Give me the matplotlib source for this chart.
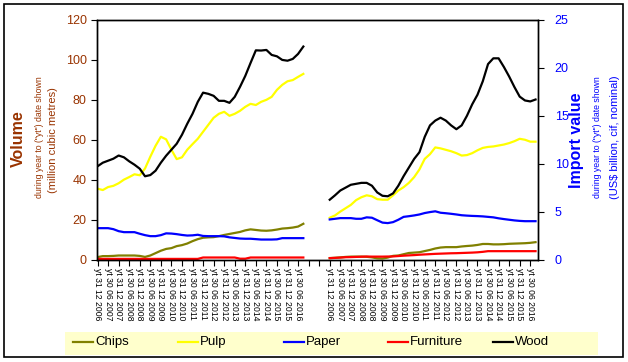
import matplotlib
matplotlib.use("Agg")
import matplotlib.pyplot as plt
from matplotlib.patches import Rectangle
from matplotlib.lines import Line2D

plt.rcParams['font.family'] = ['Liberation Sans', 'DejaVu Sans']

# months since Dec 2006 (quarterly readings)
months = list(range(0, 118, 3))

# volume, million cubic metres (left panel)
chips_vol = [1.2, 1.7, 1.7, 1.8, 2.0, 2.0, 2.0, 2.0, 1.8, 1.3, 2.0, 3.2, 4.4, 5.3, 5.7, 6.7, 7.2, 8, 9.2, 10.2,
             10.9, 11.1, 11.2, 11.7, 12.3, 12.8, 13.3, 13.8, 14.6, 15.1, 14.8, 14.5, 14.4, 14.6, 15, 15.5, 15.7, 16, 16.5, 17.9]
pulp_vol = [35.5, 34.8, 36.3, 36.9, 38.2, 40, 41.3, 42.7, 42.2, 45.6, 51.5, 57, 61.5, 60.2, 55, 50.3, 51.2, 55, 57.8, 60.5,
            64, 67.5, 71, 73, 74, 72, 73, 74.5, 76.5, 78, 77.4, 79, 80, 81.5, 85, 87.5, 89.3, 89.9, 91.5, 93]
paper_vol = [15.7, 15.7, 15.7, 15.2, 14.2, 13.7, 13.7, 13.7, 12.9, 12.2, 11.7, 11.7, 12.2, 13.1, 13, 12.7, 12.3, 12, 12.1, 12.4,
             11.8, 11.7, 11.7, 11.7, 11.6, 11.1, 10.8, 10.5, 10.4, 10.4, 10.2, 10, 10, 10, 10.1, 10.7, 10.7, 10.7, 10.7, 10.7]
furniture_vol = [0.3] * 20 + [1.0] * 7 + [0.4] * 2 + [1.0] * 11
wood_vol = [46.7, 48.5, 49.5, 50.5, 52.1, 51.2, 49.2, 47.5, 45.5, 41.7, 42.3, 44.5, 48.5, 52, 55, 58, 62.5, 68, 73, 79,
            83.6, 83, 82, 79.5, 79.5, 78.5, 81.5, 86.5, 92, 98.5, 104.8, 104.7, 105, 102.5, 101.8, 100, 99.6, 100.5, 103, 106.7]

# import value, US$ billion (right panel)
chips_val = [0.15, 0.18, 0.22, 0.27, 0.3, 0.3, 0.3, 0.28, 0.22, 0.12, 0.1, 0.2, 0.38, 0.42, 0.55, 0.68, 0.72, 0.76, 0.88, 1.0,
             1.15, 1.25, 1.29, 1.29, 1.29, 1.36, 1.41, 1.45, 1.52, 1.62, 1.62, 1.58, 1.58, 1.6, 1.64, 1.66, 1.68, 1.7, 1.74, 1.81]
pulp_val = [4.36, 4.6, 5.0, 5.35, 5.7, 6.2, 6.5, 6.7, 6.6, 6.3, 6.24, 6.24, 6.7, 7.2, 7.55, 8.0, 8.6, 9.4, 10.5, 11.0,
            11.7, 11.6, 11.45, 11.3, 11.1, 10.85, 10.9, 11.1, 11.4, 11.65, 11.75, 11.8, 11.9, 12.0, 12.15, 12.35, 12.6, 12.5, 12.3, 12.3]
paper_val = [4.18, 4.25, 4.32, 4.32, 4.32, 4.25, 4.25, 4.4, 4.36, 4.1, 3.85, 3.8, 3.9, 4.15, 4.45, 4.52, 4.6, 4.7, 4.85, 4.95,
             5.03, 4.88, 4.83, 4.77, 4.7, 4.62, 4.58, 4.55, 4.53, 4.5, 4.45, 4.4, 4.3, 4.22, 4.15, 4.08, 4.03, 4.0, 4.0, 4.0]
furniture_val = [0.14, 0.17, 0.2, 0.24, 0.25, 0.27, 0.29, 0.31, 0.3, 0.3, 0.3, 0.31, 0.32, 0.36, 0.4, 0.43, 0.46, 0.5, 0.53, 0.56,
                 0.59, 0.61, 0.63, 0.65, 0.66, 0.68, 0.7, 0.72, 0.75, 0.8] + [0.87] * 10
wood_val = [6.24, 6.7, 7.2, 7.5, 7.8, 7.9, 8.0, 8.0, 7.7, 7.0, 6.65, 6.6, 6.9, 7.7, 8.7, 9.6, 10.5, 11.2, 12.8, 14.0,
            14.5, 14.8, 14.5, 14.0, 13.6, 14.0, 15.0, 16.2, 17.2, 18.6, 20.4, 21.0, 21.0, 20.1, 19.1, 18.0, 17.0, 16.6, 16.5, 16.7]

date_labels = ["yt 31 12 2006", "yt 30 06 2007", "yt 31 12 2007", "yt 30 06 2008", "yt 31 12 2008",
               "yt 30 06 2009", "yt 31 12 2009", "yt 30 06 2010", "yt 31 12 2010", "yt 30 06 2011",
               "yt 31 12 2011", "yt 30 06 2012", "yt 31 12 2012", "yt 30 06 2013", "yt 31 12 2013",
               "yt 30 06 2014", "yt 31 12 2014", "yt 30 06 2015", "yt 31 12 2015", "yt 30 06 2016"]
label_months = list(range(0, 115, 6))

names = ["Chips", "Pulp", "Paper", "Furniture", "Wood"]
colors = ["#808000", "#FFFF00", "#0000FF", "#FF0000", "#000000"]
vol_series = [chips_vol, pulp_vol, paper_vol, furniture_vol, wood_vol]
val_series = [chips_val, pulp_val, paper_val, furniture_val, wood_val]

offset = 132  # where the value panel starts on the shared x axis
brown = "#993300"
blue = "#0000FF"
W, H = 628, 362

fig = plt.figure(figsize=(6.28, 3.62), dpi=100)
ax = fig.add_axes([97 / W, 1 - 259.5 / H, 441 / W, 239.5 / H])
ax2 = ax.twinx()

for name, col, vol, val in zip(names, colors, vol_series, val_series):
    ax.plot(months, vol, color=col, lw=1.6, label=name)
    ax2.plot([m + offset for m in months], val, color=col, lw=1.6)

ax.set_xlim(-0.3, 250.4)
ax.set_ylim(0, 120)
ax2.set_ylim(0, 25)
ax.set_yticks(range(0, 121, 20))
ax2.set_yticks(range(0, 26, 5))

tick_pos = label_months + [120, 126] + [m + offset for m in label_months]
tick_lab = date_labels + ["", ""] + date_labels
ax.set_xticks(tick_pos)
ax.set_xticklabels(tick_lab, rotation=270, fontsize=6.2, va="top", ha="center")

ax.tick_params(axis="x", length=4, width=0.8, pad=2)
ax.tick_params(axis="y", length=4.5, width=0.8, pad=3, labelsize=9, labelcolor=brown)
ax2.tick_params(axis="y", length=4, width=0.8, pad=8, labelsize=9, labelcolor=blue)
for a in (ax, ax2):
    for s in a.spines.values():
        s.set_linewidth(1.0)

# axis titles
fig.text(18 / W, 1 - 139 / H, "Volume", rotation=90, fontsize=11.5, fontweight="bold",
         color=brown, ha="center", va="center")
fig.text(39 / W, 1 - 137 / H, 'during year to ("yt") date shown', rotation=90, fontsize=6.3,
         color=brown, ha="center", va="center")
fig.text(53 / W, 1 - 140 / H, "(million cubic metres)", rotation=90, fontsize=8,
         color=brown, ha="center", va="center")
fig.text(577 / W, 1 - 140 / H, "Import value", rotation=90, fontsize=11.5, fontweight="bold",
         color=blue, ha="center", va="center")
fig.text(597 / W, 1 - 137 / H, 'during year to ("yt") date shown', rotation=90, fontsize=6.3,
         color=blue, ha="center", va="center")
fig.text(615 / W, 1 - 137 / H, "(US$ billion, cif, nominal)", rotation=90, fontsize=8,
         color=blue, ha="center", va="center")

# legend strip, drawn by hand so entries sit where the original puts them
fig.add_artist(Rectangle((65 / W, 1 - 355 / H), 533 / W, 23 / H, transform=fig.transFigure,
                         facecolor="#FFFFCC", edgecolor="none"))
legend_x = [73, 178, 284, 388, 493]
ly = 1 - 342 / H
for x0, name, col in zip(legend_x, names, colors):
    fig.add_artist(Line2D([x0 / W, (x0 + 20) / W], [ly, ly], transform=fig.transFigure, color=col, lw=1.6))
    fig.text((x0 + 22) / W, ly, name, fontsize=9.5, ha="left", va="center")

# outer border
fig.add_artist(Rectangle((4 / W, 1 - 357 / H), 619 / W, 353 / H, transform=fig.transFigure,
                         facecolor="none", edgecolor="black", lw=1.2))

fig.savefig("out.png", dpi=100)
